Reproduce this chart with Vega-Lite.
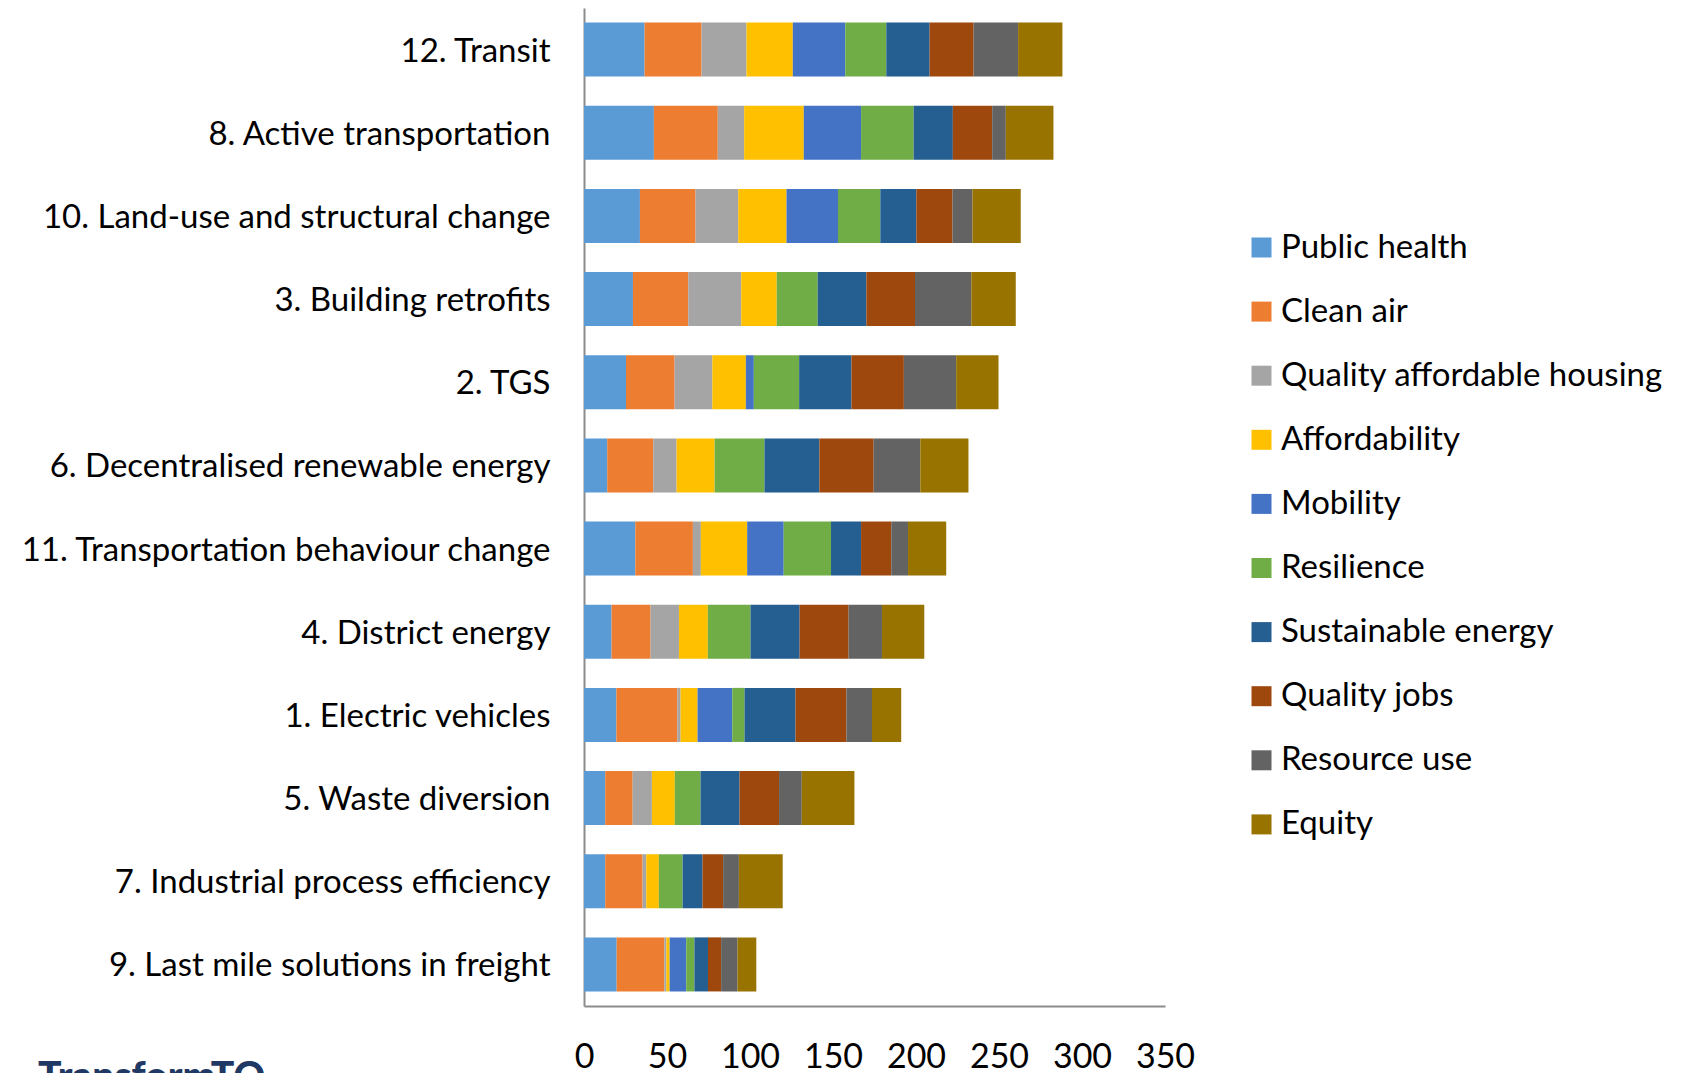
{
  "$schema": "https://vega.github.io/schema/vega-lite/v6.json",
  "autosize": {"type": "none"},
  "padding": {"left": 584, "top": 8, "right": 516, "bottom": 67},
  "width": 581,
  "height": 998,
  "background": "#ffffff",
  "title": {
    "text": "TransformTO",
    "orient": "bottom",
    "anchor": "start",
    "frame": "group",
    "font": "Lato",
    "fontWeight": 900,
    "fontSize": 39,
    "color": "#1F3864",
    "dx": -546,
    "offset": -15
  },
  "datasets": {
    "scores": [
      {"p": "12. Transit", "Public health": 36.5, "Clean air": 34.3, "Quality affordable housing": 27.1, "Affordability": 27.9, "Mobility": 31.6, "Resilience": 24.7, "Sustainable energy": 26.1, "Quality jobs": 26.5, "Resource use": 26.8, "Equity": 26.7},
      {"p": "8. Active transportation", "Public health": 42.1, "Clean air": 38.5, "Quality affordable housing": 15.9, "Affordability": 35.9, "Mobility": 34.5, "Resilience": 31.7, "Sustainable energy": 23.6, "Quality jobs": 23.7, "Resource use": 8.2, "Equity": 28.7},
      {"p": "10. Land-use and structural change", "Public health": 33.7, "Clean air": 33.5, "Quality affordable housing": 25.7, "Affordability": 29.1, "Mobility": 31.0, "Resilience": 25.5, "Sustainable energy": 21.7, "Quality jobs": 21.8, "Resource use": 12.0, "Equity": 29.1},
      {"p": "3. Building retrofits", "Public health": 29.5, "Clean air": 33.3, "Quality affordable housing": 31.9, "Affordability": 21.4, "Mobility": 0, "Resilience": 24.7, "Sustainable energy": 29.3, "Quality jobs": 29.3, "Resource use": 33.9, "Equity": 26.8},
      {"p": "2. TGS", "Public health": 25.3, "Clean air": 29.3, "Quality affordable housing": 22.7, "Affordability": 20.2, "Mobility": 4.8, "Resilience": 27.3, "Sustainable energy": 31.5, "Quality jobs": 31.6, "Resource use": 31.5, "Equity": 25.5},
      {"p": "6. Decentralised renewable energy", "Public health": 14.0, "Clean air": 27.7, "Quality affordable housing": 14.1, "Affordability": 22.9, "Mobility": 0, "Resilience": 30.0, "Sustainable energy": 33.1, "Quality jobs": 32.7, "Resource use": 28.1, "Equity": 29.0},
      {"p": "11. Transportation behaviour change", "Public health": 30.9, "Clean air": 34.7, "Quality affordable housing": 4.8, "Affordability": 27.9, "Mobility": 22.0, "Resilience": 28.5, "Sustainable energy": 18.1, "Quality jobs": 18.2, "Resource use": 10.1, "Equity": 23.0},
      {"p": "4. District energy", "Public health": 16.6, "Clean air": 23.5, "Quality affordable housing": 17.1, "Affordability": 17.4, "Mobility": 0, "Resilience": 25.7, "Sustainable energy": 29.6, "Quality jobs": 29.5, "Resource use": 20.1, "Equity": 25.5},
      {"p": "1. Electric vehicles", "Public health": 19.5, "Clean air": 36.7, "Quality affordable housing": 2.0, "Affordability": 10.2, "Mobility": 20.9, "Resilience": 7.4, "Sustainable energy": 30.7, "Quality jobs": 30.7, "Resource use": 15.4, "Equity": 17.6},
      {"p": "5. Waste diversion", "Public health": 12.8, "Clean air": 16.5, "Quality affordable housing": 11.6, "Affordability": 13.8, "Mobility": 0, "Resilience": 15.5, "Sustainable energy": 23.5, "Quality jobs": 23.8, "Resource use": 13.7, "Equity": 31.7},
      {"p": "7. Industrial process efficiency", "Public health": 12.8, "Clean air": 22.5, "Quality affordable housing": 2.2, "Affordability": 7.6, "Mobility": 0, "Resilience": 14.3, "Sustainable energy": 12.0, "Quality jobs": 12.4, "Resource use": 9.5, "Equity": 26.4},
      {"p": "9. Last mile solutions in freight", "Public health": 19.7, "Clean air": 28.7, "Quality affordable housing": 1.2, "Affordability": 2.0, "Mobility": 10.0, "Resilience": 4.9, "Sustainable energy": 8.2, "Quality jobs": 7.9, "Resource use": 9.9, "Equity": 11.3}
    ],
    "crit": [
      {"c": "Public health", "k": 1},
      {"c": "Clean air", "k": 2},
      {"c": "Quality affordable housing", "k": 3},
      {"c": "Affordability", "k": 4},
      {"c": "Mobility", "k": 5},
      {"c": "Resilience", "k": 6},
      {"c": "Sustainable energy", "k": 7},
      {"c": "Quality jobs", "k": 8},
      {"c": "Resource use", "k": 9},
      {"c": "Equity", "k": 10}
    ]
  },
  "data": {"name": "scores"},
  "transform": [
    {"fold": ["Public health", "Clean air", "Quality affordable housing", "Affordability", "Mobility", "Resilience", "Sustainable energy", "Quality jobs", "Resource use", "Equity"], "as": ["c", "v"]},
    {"lookup": "c", "from": {"data": {"name": "crit"}, "key": "c", "fields": ["k"]}}
  ],
  "mark": {"type": "bar", "strokeWidth": 0},
  "encoding": {
    "y": {
      "field": "p",
      "type": "nominal",
      "sort": null,
      "scale": {"paddingInner": 0.35, "paddingOuter": 0.175},
      "axis": {
        "title": null,
        "ticks": false,
        "tickSize": 0,
        "labelPadding": 34,
        "labelOffset": 2,
        "labelFont": "Lato",
        "labelFontSize": 33,
        "labelColor": "#000000",
        "labelLimit": 700,
        "domainColor": "#8c8c8c",
        "domainWidth": 2
      }
    },
    "x": {
      "field": "v",
      "type": "quantitative",
      "stack": "zero",
      "scale": {"domain": [0, 350], "nice": false},
      "axis": {
        "title": null,
        "values": [0, 50, 100, 150, 200, 250, 300, 350],
        "grid": false,
        "ticks": false,
        "tickSize": 0,
        "labelPadding": 34,
        "labelFont": "Lato",
        "labelFontSize": 34,
        "labelColor": "#000000",
        "labelFlush": false,
        "labelOverlap": false,
        "domainColor": "#8c8c8c",
        "domainWidth": 2
      }
    },
    "color": {
      "field": "c",
      "type": "nominal",
      "scale": {
        "domain": ["Public health", "Clean air", "Quality affordable housing", "Affordability", "Mobility", "Resilience", "Sustainable energy", "Quality jobs", "Resource use", "Equity"],
        "range": ["#5B9BD5", "#ED7D31", "#A5A5A5", "#FFC000", "#4472C4", "#70AD47", "#255E91", "#9E480E", "#636363", "#997300"]
      },
      "legend": {
        "title": null,
        "orient": "none",
        "legendX": 661,
        "legendY": 223,
        "padding": 0,
        "symbolType": "square",
        "symbolSize": 400,
        "symbolStrokeWidth": 0,
        "labelFont": "Lato",
        "labelFontSize": 33,
        "labelColor": "#000000",
        "labelOffset": 3,
        "labelLimit": 600,
        "rowPadding": 30.1
      }
    },
    "order": {"field": "k", "type": "quantitative"}
  },
  "config": {"view": {"stroke": null}}
}
